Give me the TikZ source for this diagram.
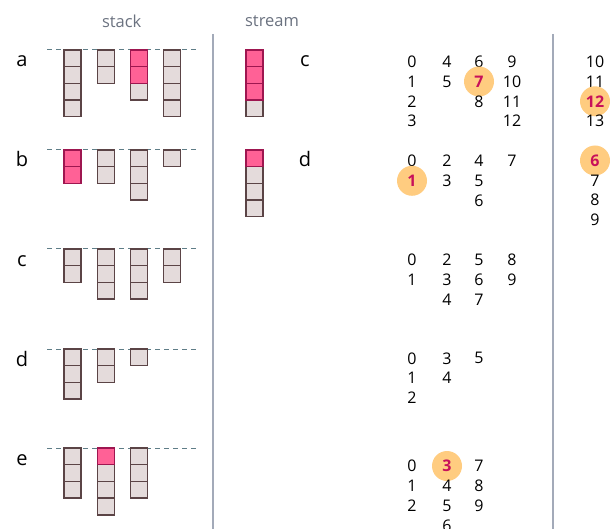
\documentclass[tikz,border=0pt]{standalone}
\usepackage{fontspec}
\setmainfont{Open Sans}

\definecolor{cellfill}{HTML}{E4DBDB}
\definecolor{cellline}{HTML}{5B4446}
\definecolor{hotfill}{HTML}{FF6196}
\definecolor{hotline}{HTML}{9E1650}
\definecolor{guidegray}{HTML}{5F7D87}
\definecolor{divgray}{HTML}{A3AAB9}
\definecolor{headgray}{HTML}{6B7280}
\definecolor{markfill}{HTML}{FFCC80}
\definecolor{marktext}{HTML}{C8105A}

\tikzset{
  cell/.style={draw=cellline, fill=cellfill, line width=1.4pt},
  hotcell/.style={draw=hotline, fill=hotfill, line width=1.4pt},
  guide/.style={draw=guidegray, dash pattern=on 5pt off 4pt, line width=1pt},
  divider/.style={draw=divgray, line width=1.8pt},
  head/.style={font=\fontsize{16.5}{16.5}\selectfont, text=headgray, inner sep=0pt},
  rowlabel/.style={font=\fontsize{20}{20}\selectfont, anchor=base, inner sep=0pt},
  num/.style={font=\fontsize{16}{16}\selectfont, inner sep=0pt},
  hinum/.style={num, circle, fill=markfill, text=marktext, minimum size=30pt,
    font=\fontsize{16}{16}\selectfont\bfseries},
}

% column of cells: x, top y, cells, hot cells on top
\newcommand{\cellcol}[4]{%
  \foreach \k in {#3,...,1}{
    \ifnum\k>#4
      \draw[cell] (#1,{#2+(\k-1)*16.7}) rectangle ++(17,16.7);
    \else
      \draw[hotcell] (#1,{#2+(\k-1)*16.7}) rectangle ++(17,16.7);
    \fi
  }}
% column of numbers: name, x, first y, list, marked entry (0 = none)
\newcommand{\numcol}[5]{%
  \foreach \v [count=\i] in {#4}{
    \ifnum\i=#5
      \node[hinum] (#1-\i) at (#2,{#3+(\i-1)*19.8}) {\v};
    \else
      \node[num] (#1-\i) at (#2,{#3+(\i-1)*19.8}) {\v};
    \fi
  }}

\begin{document}
\begin{tikzpicture}[x=1pt,y=-1pt]
  \useasboundingbox (0,0) rectangle (610,529);

  \node[head] (stackhead) at (121.7,21) {stack};
  \node[head] (streamhead) at (272,21) {stream};

  \draw[divider] (213,34) -- (213,529);
  \draw[divider] (553,34) -- (553,529);

  % stack
  \node[rowlabel] (la) at (22,67) {a};
  \draw[guide] (47,50) -- (198,50);
  \cellcol{64}{50}{4}{0}
  \cellcol{97.2}{50}{2}{0}
  \cellcol{130.4}{50}{3}{2}
  \cellcol{163.6}{50}{4}{0}

  \node[rowlabel] (lb) at (22,167) {b};
  \draw[guide] (47,150) -- (198,150);
  \cellcol{64}{150}{2}{2}
  \cellcol{97.2}{150}{2}{0}
  \cellcol{130.4}{150}{3}{0}
  \cellcol{163.6}{150}{1}{0}

  \node[rowlabel] (lc) at (22,266) {c};
  \draw[guide] (47,249) -- (198,249);
  \cellcol{64}{249}{2}{0}
  \cellcol{97.2}{249}{3}{0}
  \cellcol{130.4}{249}{3}{0}
  \cellcol{163.6}{249}{2}{0}

  \node[rowlabel] (ld) at (22,366) {d};
  \draw[guide] (47,349) -- (198,349);
  \cellcol{64}{349}{3}{0}
  \cellcol{97.2}{349}{2}{0}
  \cellcol{130.4}{349}{1}{0}

  \node[rowlabel] (le) at (22,465) {e};
  \draw[guide] (47,448) -- (198,448);
  \cellcol{64}{448}{3}{0}
  \cellcol{97.2}{448}{4}{1}
  \cellcol{130.4}{448}{3}{0}

  % stream
  \cellcol{246}{50}{4}{3}
  \node[rowlabel] (sc) at (305,67) {c};
  \cellcol{246}{150}{4}{1}
  \node[rowlabel] (sd) at (305,167) {d};

  % numbers
  \numcol{ca}{412}{61.7}{0,1,2,3}{0}
  \numcol{cb}{447}{61.7}{4,5}{0}
  \numcol{cc}{479}{61.7}{6,7,8}{2}
  \numcol{cd}{512}{61.7}{9,10,11,12}{0}
  \numcol{ce}{595}{61.7}{10,11,12,13}{3}

  \numcol{da}{412}{161}{0,1}{2}
  \numcol{db}{447}{161}{2,3}{0}
  \numcol{dc}{479}{161}{4,5,6}{0}
  \numcol{dd}{512}{161}{7}{0}
  \numcol{de}{595}{160.5}{6,7,8,9}{1}

  \numcol{fa}{412}{260}{0,1}{0}
  \numcol{fb}{447}{260}{2,3,4}{0}
  \numcol{fc}{479}{260}{5,6,7}{0}
  \numcol{fd}{512}{260}{8,9}{0}

  \numcol{ga}{412}{358.3}{0,1,2}{0}
  \numcol{gb}{447}{358.3}{3,4}{0}
  \numcol{gc}{479}{358.3}{5}{0}

  \numcol{ha}{412}{466}{0,1,2}{0}
  \numcol{hb}{447}{466}{3,4,5,6}{1}
  \numcol{hc}{479}{466}{7,8,9}{0}
\end{tikzpicture}
\end{document}
